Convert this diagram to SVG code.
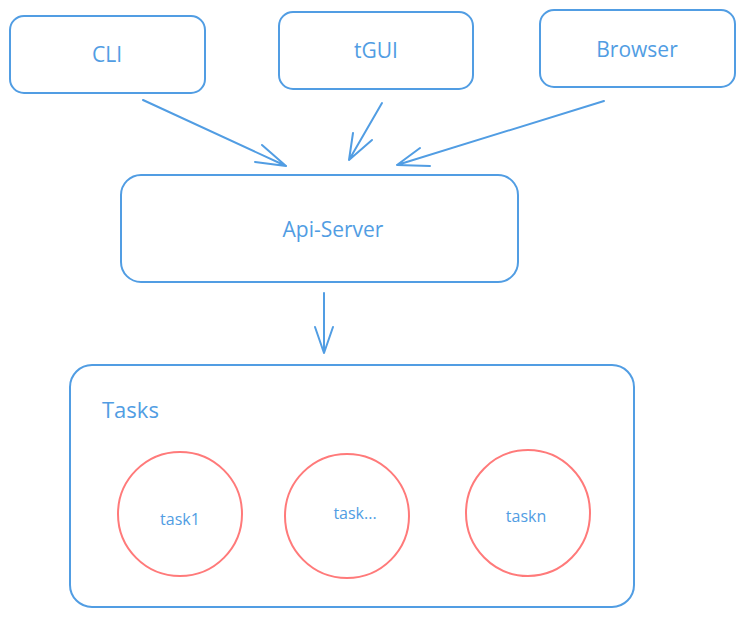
<svg xmlns="http://www.w3.org/2000/svg" width="745" height="618" viewBox="0 0 745 618">
<style>
.box{fill:none;stroke:#519de3;stroke-width:2;}
.circ{fill:none;stroke:#ff7a7a;stroke-width:2;}
.ln{fill:none;stroke:#519de3;stroke-width:2;stroke-linecap:round;stroke-linejoin:round;}
text{font-family:"Open Sans","Liberation Sans",sans-serif;fill:#519de3;}
.lbl{font-size:21px;text-anchor:middle;}
.sm{font-size:16px;text-anchor:middle;}
</style>
<rect width="745" height="618" fill="#ffffff"/>
<g id="cli"><rect class="box" x="10" y="16" width="195" height="77" rx="14"/><text class="lbl" x="107" y="62">CLI</text></g>
<g id="tgui"><rect class="box" x="279" y="12" width="194" height="77" rx="14"/><text class="lbl" x="376" y="58">tGUI</text></g>
<g id="browser"><rect class="box" x="540" y="10" width="195" height="77" rx="14"/><text class="lbl" x="637" y="57">Browser</text></g>
<g id="api"><rect class="box" x="121" y="175" width="397" height="107" rx="20"/><text class="lbl" x="333" y="237">Api-Server</text></g>
<g id="tasks"><rect class="box" x="70" y="365" width="564" height="242" rx="22"/><text x="102" y="418" font-size="22">Tasks</text></g>
<g id="task1"><ellipse class="circ" cx="180" cy="514" rx="62" ry="62"/><text class="sm" x="180" y="525">task1</text></g>
<g id="task2"><ellipse class="circ" cx="347" cy="516" rx="62" ry="62"/><text class="sm" x="355" y="519">task...</text></g>
<g id="taskn"><ellipse class="circ" cx="528" cy="513" rx="62" ry="63"/><text class="sm" x="526" y="522">taskn</text></g>
<g id="connectors">
<path class="ln" d="M143 100 L286 166 M262 145 L286 166 L255 162"/>
<path class="ln" d="M382 103 L349 160 M353 133 L349 160 L372 140"/>
<path class="ln" d="M604 101 L397 165 M420 148 L397 165 L430 166"/>
<path class="ln" d="M324 293 L324 353 M315 327 L324 353 L333 327"/>
</g>
</svg>
